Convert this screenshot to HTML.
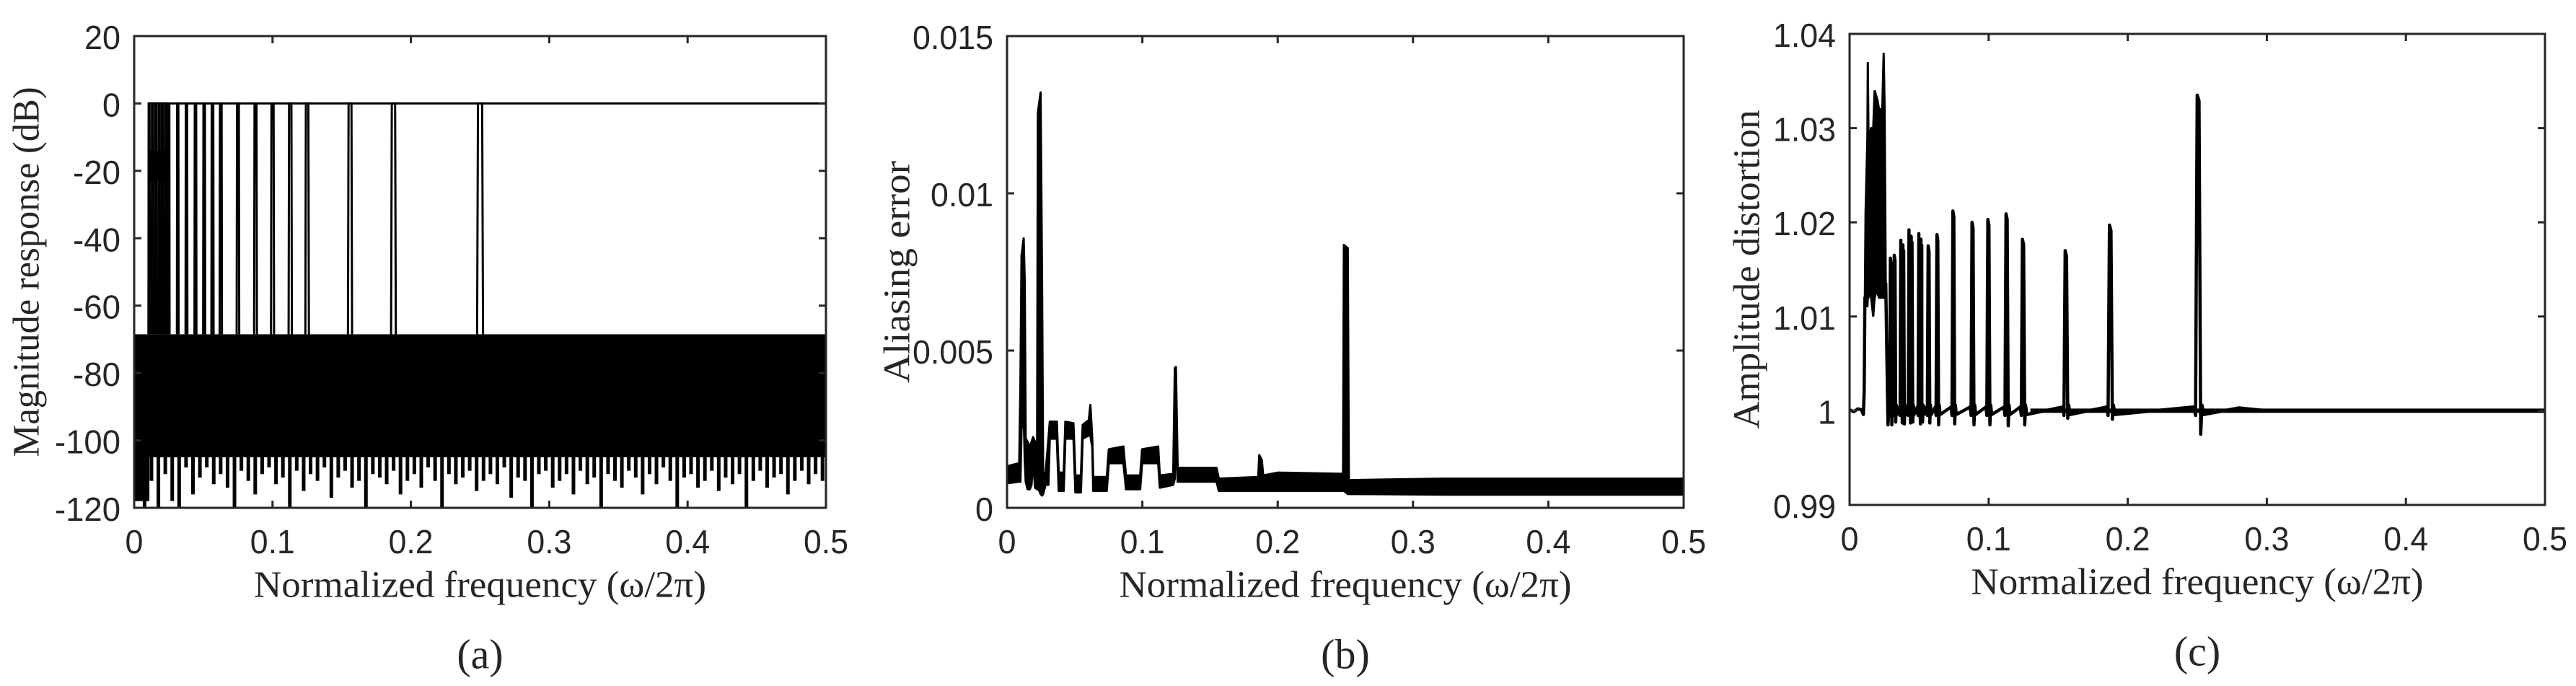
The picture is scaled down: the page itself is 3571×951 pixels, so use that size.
<!DOCTYPE html>
<html><head><meta charset="utf-8"><style>
html,body{margin:0;padding:0;background:#fff;}
svg{display:block;}
</style></head><body>
<svg id="fig" width="3571" height="951" viewBox="0 0 3571 951" xmlns="http://www.w3.org/2000/svg">
<rect x="0" y="0" width="3571" height="951" fill="#fff"/>
</svg>
<script>
// ---------- data ----------
const xTicks = [0, 0.1, 0.2, 0.3, 0.4, 0.5];
const xTickLabels = ["0", "0.1", "0.2", "0.3", "0.4", "0.5"];

// (a) magnitude response
const aTicks = [-120, -100, -80, -60, -40, -20, 0, 20];
const aTickLabels = ["-120", "-100", "-80", "-60", "-40", "-20", "0", "20"];
const aPassCenters = [0.0108, 0.0132, 0.0156, 0.018, 0.0203, 0.0227, 0.025, 0.0315, 0.0378, 0.0443, 0.0506, 0.0566, 0.0626, 0.075, 0.0877, 0.1, 0.1128, 0.125, 0.156, 0.1874, 0.25];
const aPassPeak = 0;
const aStopTop = -68.5;
const aStopBottom = -105;
const aFloor = [-118,-120,-112,-120,-110,-118,-120,-108,-116,-111,-108,-113,-110,-114,-120,-109,-112,-116,-110,-108,
 -113,-111,-120,-109,-115,-110,-112,-108,-117,-111,-109,-114,-112,-120,-110,-111,-113,-109,-116,-112,
 -110,-114,-108,-112,-120,-110,-113,-111,-109,-115,-112,-110,-113,-108,-117,-111,-112,-120,-110,-109,
 -114,-112,-110,-116,-109,-113,-111,-120,-110,-112,-114,-109,-111,-116,-110,-113,-108,-112,-120,-111,
 -110,-114,-112,-109,-115,-111,-113,-110,-120,-112,-109,-114,-111,-110,-116,-112,-109,-113,-110,-112];

// (b) aliasing error envelope
const bTicks = [0, 0.005, 0.01, 0.015];
const bTickLabels = ["0", "0.005", "0.01", "0.015"];
const bFreq = [0,0.009,0.0099,0.0107,0.0123,0.0131,0.0138,0.0152,0.0168,0.0181,0.0193,0.0207,0.0222,0.0228,0.0248,0.0259,0.0267,0.0285,0.0306,0.0316,0.0368,0.0382,0.0419,0.0431,0.0491,0.0505,0.0546,0.0559,0.0604,0.0616,0.063,0.0637,0.0737,0.0752,0.086,0.0879,0.0984,0.0998,0.1117,0.1129,0.1228,0.124,0.1248,0.1261,0.1548,0.1565,0.1856,0.1864,0.1883,0.1893,0.2,0.2483,0.2489,0.2518,0.2526,0.3228,0.5];
const bHigh = [0.00132,0.00142,0.00396,0.00801,0.00857,0.00718,0.0022,0.0021,0.00191,0.0021,0.00225,0.0021,0.00171,0.01256,0.01321,0.00718,0.00103,0.00112,0.0022,0.00274,0.00274,0.00112,0.00112,0.00274,0.00269,0.00103,0.00103,0.00264,0.00279,0.00327,0.0022,0.00098,0.00098,0.00186,0.00195,0.00103,0.00103,0.00186,0.00195,0.00103,0.00108,0.00445,0.00448,0.00127,0.00127,0.00093,0.00098,0.00168,0.00151,0.00103,0.00112,0.00108,0.00836,0.00826,0.00088,0.00093,0.00093];
const bLow = [0.00078,0.00083,0.00083,0.00249,0.00298,0.00151,0.00083,0.00059,0.00059,0.00073,0.00151,0.00064,0.00059,0.00064,0.00044,0.00039,0.00044,0.00073,0.00073,0.0022,0.0022,0.00054,0.00054,0.0022,0.0022,0.00049,0.00049,0.0022,0.0023,0.0023,0.00191,0.00054,0.00054,0.00142,0.00142,0.00059,0.00059,0.00142,0.00142,0.00064,0.00073,0.00093,0.00249,0.00083,0.00083,0.00054,0.00054,0.00054,0.00054,0.00054,0.00054,0.00054,0.00054,0.00044,0.00044,0.00042,0.00042];

// (c) amplitude distortion
const cTicks = [0.99, 1.0, 1.01, 1.02, 1.03, 1.04];
const cTickLabels = ["0.99", "1", "1.01", "1.02", "1.03", "1.04"];
const cDenseFreq = [0.011,0.0115,0.0128,0.0131,0.0136,0.0146,0.0155,0.017,0.018,0.019,0.02,0.0212,0.0235,0.0245,0.0252,0.026];
const cDenseTop = [1.012,1.021,1.029,1.037,1.029,1.0295,1.03,1.03,1.034,1.0335,1.033,1.032,1.032,1.038,1.032,1.0135];
const cDenseBottom = [1.011,1.012,1.011,1.012,1.012,1.013,1.012,1.01,1.012,1.0125,1.0125,1.012,1.012,1.012,1.012,1.012];
const cLeadFreq = [0,0.003,0.006,0.0085,0.0099,0.0105,0.011];
const cLeadVal = [1.0001,0.9999,1.0002,1.0001,0.9996,1.002,1.012];
const cSpikeFreq = [0.0296,0.0324,0.0371,0.0386,0.043,0.0446,0.0501,0.0516,0.0568,0.0631,0.0746,0.0884,0.0998,0.1129,0.1247,0.1555,0.1874,0.2506];
const cSpikePeak = [1.0162,1.0165,1.0181,1.0176,1.0192,1.0185,1.0188,1.0182,1.0175,1.0187,1.0212,1.02,1.0203,1.0209,1.0182,1.017,1.0197,1.0335];
const cSpikeDip = [0.9985,0.9988,0.9987,0.9986,0.9987,0.9988,0.9986,0.9988,0.9987,0.9985,0.9986,0.9985,0.9985,0.9984,0.9985,0.9992,0.9991,0.9975];
const cTailVal = 1.0;

// ---------- helpers ----------
const NS = "http://www.w3.org/2000/svg";
const svg = document.getElementById("fig");
function mk(tag, attrs, parent) {
  const e = document.createElementNS(NS, tag);
  for (const k in attrs) e.setAttribute(k, attrs[k]);
  (parent || svg).appendChild(e);
  return e;
}
function labelLen(s) {
  let w = 0;
  for (const ch of s) w += (ch === ".") ? 12 : (ch === "-" ? 16 : 25);
  return w;
}
function makeAxes(cfg) {
  const g = mk("g", {});
  
  
  const sx = v => cfg.x0 + (v - 0) / 0.5 * (cfg.x1 - cfg.x0);
  const sy = v => cfg.y1 - (v - cfg.ymin) / (cfg.ymax - cfg.ymin) * (cfg.y1 - cfg.y0);
  return {g, sx, sy, cfg};
}
function drawFrame(ax, yTicks, yLabels, ylabel, ylabelX, ylabelLen, cap) {
  const {g, sx, sy, cfg} = ax;
  const col = "#262626";
  const fr = mk("rect", {x: cfg.x0, y: cfg.y0, width: cfg.x1 - cfg.x0, height: cfg.y1 - cfg.y0, fill: "none", stroke: col, "stroke-width": 3}, g);
  
  
  xTicks.forEach((t, i) => {
    const x = sx(t);
    mk("line", {x1: x, x2: x, y1: cfg.y1, y2: cfg.y1 - 10, stroke: col, "stroke-width": 3}, g);
    mk("line", {x1: x, x2: x, y1: cfg.y0, y2: cfg.y0 + 10, stroke: col, "stroke-width": 3}, g);
    const tx = mk("text", {x: x, y: cfg.y1 + 47, "text-anchor": "middle", "dominant-baseline": "central", "font-family": "Liberation Sans, sans-serif", "font-size": 46, fill: col, textLength: labelLen(xTickLabels[i]), lengthAdjust: "spacingAndGlyphs"}, g);
    tx.textContent = xTickLabels[i];
    
    
  });
  yTicks.forEach((t, i) => {
    const y = sy(t);
    mk("line", {x1: cfg.x0, x2: cfg.x0 + 10, y1: y, y2: y, stroke: col, "stroke-width": 3}, g);
    mk("line", {x1: cfg.x1, x2: cfg.x1 - 10, y1: y, y2: y, stroke: col, "stroke-width": 3}, g);
    const tx = mk("text", {x: cfg.x0 - 19, y: y + 2, "text-anchor": "end", "dominant-baseline": "central", "font-family": "Liberation Sans, sans-serif", "font-size": 46, fill: col, textLength: labelLen(yLabels[i]), lengthAdjust: "spacingAndGlyphs"}, g);
    tx.textContent = yLabels[i];
    
    
  });
  const cx = (cfg.x0 + cfg.x1) / 2;
  const xl = mk("text", {x: cx, y: cfg.y1 + 107, "text-anchor": "middle", "dominant-baseline": "central", "font-family": "Liberation Serif, serif", "font-size": 52, fill: col, textLength: 627, lengthAdjust: "spacingAndGlyphs"}, g);
  xl.textContent = "Normalized frequency (\u03c9/2\u03c0)";
  
  
  const cy = (cfg.y0 + cfg.y1) / 2;
  const yl = mk("text", {x: 0, y: 0, transform: `translate(${ylabelX},${cy}) rotate(-90)`, "text-anchor": "middle", "dominant-baseline": "central", "font-family": "Liberation Serif, serif", "font-size": 52, fill: col, textLength: ylabelLen, lengthAdjust: "spacingAndGlyphs"}, g);
  yl.textContent = ylabel;
  
  
  const cp = mk("text", {x: cx, y: cfg.y1 + 203, "text-anchor": "middle", "dominant-baseline": "central", "font-family": "Liberation Serif, serif", "font-size": 58, fill: col}, g);
  cp.textContent = cap;
  
  
}

// ---------- (a) ----------
const A = makeAxes({name: "panel-a-magnitude", x0: 186, x1: 1145, y0: 50, y1: 704, ymin: -120, ymax: 20});
{
  const {g, sx, sy} = A;
  const band = mk("rect", {x: sx(0), y: sy(aStopTop), width: sx(0.5) - sx(0), height: sy(aStopBottom) - sy(aStopTop), fill: "#000"}, g);
  
  
  const n = aFloor.length;
  let d = "";
  aFloor.forEach((v, i) => {
    const x = sx(0.5 * (i + 0.5) / n);
    d += `M${x},${sy(aStopBottom) - 2}L${x},${sy(v)}`;
  });
  const teeth = mk("path", {d: d, stroke: "#000", "stroke-width": 5, fill: "none"}, g);
  
  
  const lf = mk("rect", {x: sx(0), y: sy(aStopBottom), width: sx(0.011) - sx(0), height: sy(-118) - sy(aStopBottom), fill: "#000"}, g);
  
  
  const blob = mk("rect", {x: sx(0.0105), y: sy(-14), width: sx(0.0245) - sx(0.0105), height: sy(-23) - sy(-14), fill: "#000"}, g);
  
  
  const zl = mk("line", {x1: sx(0.0105), x2: sx(0.5), y1: sy(aPassPeak), y2: sy(aPassPeak), stroke: "#000", "stroke-width": 3}, g);
  
  
  aPassCenters.forEach(c => {
    const w = 0.0004 + 0.007 * c;
    const p = mk("path", {d: `M${sx(c - w)},${sy(aStopTop)}L${sx(c - w * 0.7)},${sy(aPassPeak)}L${sx(c + w * 0.7)},${sy(aPassPeak)}L${sx(c + w)},${sy(aStopTop)}`, stroke: "#000", "stroke-width": 3, fill: "none"}, g);
    
    
  });
  drawFrame(A, aTicks, aTickLabels, "Magnitude response (dB)", 37, 513, "(a)");
}

// ---------- (b) ----------
const B = makeAxes({name: "panel-b-aliasing", x0: 1396, x1: 2334, y0: 50, y1: 704, ymin: 0, ymax: 0.015});
{
  const {g, sx, sy} = B;
  let pts = bFreq.map((f, i) => `${sx(f)},${sy(bHigh[i])}`);
  for (let i = bFreq.length - 1; i >= 0; i--) pts.push(`${sx(bFreq[i])},${sy(bLow[i])}`);
  const poly = mk("polygon", {points: pts.join(" "), fill: "#000", stroke: "#000", "stroke-width": 3, "stroke-linejoin": "round"}, g);
  
  
  drawFrame(B, bTicks, bTickLabels, "Aliasing error", 1244, 308, "(b)");
}

// ---------- (c) ----------
const C = makeAxes({name: "panel-c-distortion", x0: 2564, x1: 3528, y0: 47, y1: 700, ymin: 0.99, ymax: 1.04});
{
  const {g, sx, sy} = C;
  let pts = cDenseFreq.map((f, i) => `${sx(f)},${sy(cDenseTop[i])}`);
  for (let i = cDenseFreq.length - 1; i >= 0; i--) pts.push(`${sx(cDenseFreq[i])},${sy(cDenseBottom[i])}`);
  const dense = mk("polygon", {points: pts.join(" "), fill: "#000", stroke: "#000", "stroke-width": 3}, g);
  
  
  let line = cLeadFreq.map((f, i) => [f, cLeadVal[i]]);
  line.push([0.026, 1.0135], [0.0276, 0.9985]);
  cSpikeFreq.forEach((c, i) => {
    const w = 0.0006 + 0.005 * c;
    line.push([c - 1.6 * w, 1.0004], [c - w, 0.9995], [c - 0.35 * w, cSpikePeak[i]], [c + 0.35 * w, cSpikePeak[i] - 0.0006], [c + w, cSpikeDip[i]], [c + 1.5 * w, 1.0006], [c + 2.2 * w, 0.9996]);
  });
  line.push([0.28, 1.0003], [0.3, 1.0], [0.5, cTailVal]);
  line.sort((p, q) => p[0] - q[0]);
  const pl = mk("polyline", {points: line.map(p => `${sx(p[0])},${sy(p[1])}`).join(" "), fill: "none", stroke: "#000", "stroke-width": 4.5, "stroke-linejoin": "round"}, g);
  
  
  const tail = mk("line", {x1: sx(0.13), x2: sx(0.5), y1: sy(cTailVal), y2: sy(cTailVal), stroke: "#000", "stroke-width": 6}, g);
  
  
  drawFrame(C, cTicks, cTickLabels, "Amplitude distortion", 2422, 442, "(c)");
}
</script>
</body></html>
